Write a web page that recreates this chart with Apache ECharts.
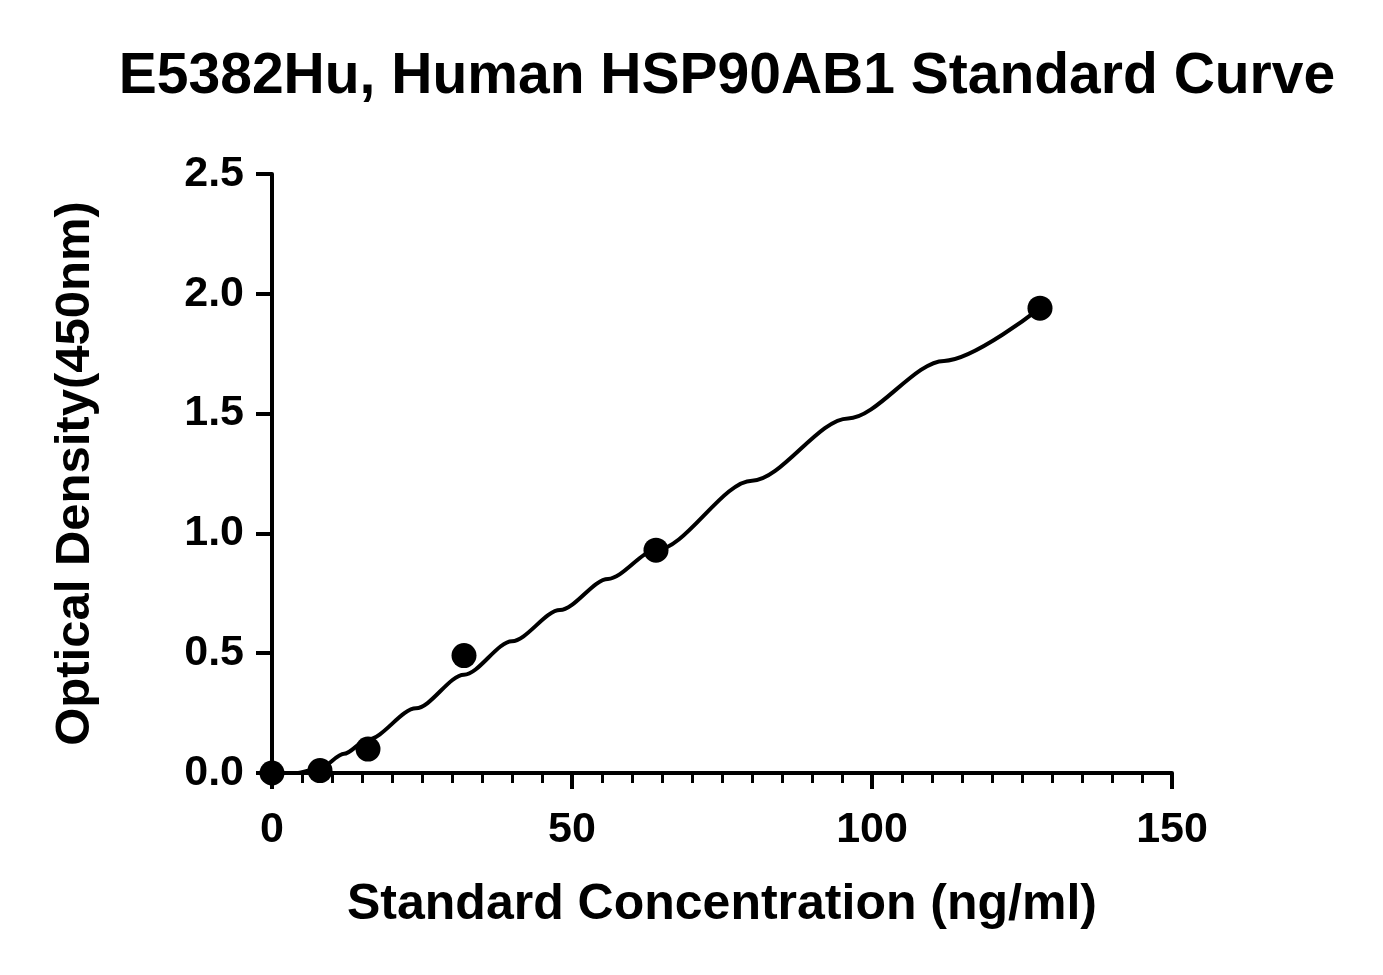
<!DOCTYPE html>
<html><head><meta charset="utf-8">
<script src="https://cdn.jsdelivr.net/npm/echarts@6/dist/echarts.min.js"></script>
<style>html,body{margin:0;padding:0;background:#fff}#c{width:1383px;height:975px}</style>
</head><body><div id="c"></div>
<script>
var pointX = [0, 8, 16, 32, 64, 128];
var pointY = [0.0, 0.01, 0.10, 0.49, 0.93, 1.94];
var curveX = [2, 4, 8, 12, 16, 24, 32, 40, 48, 56, 64, 80, 96, 112, 128];
var curveY = [0.0, 0.0, 0.02, 0.08, 0.14, 0.27, 0.41, 0.55, 0.68, 0.81, 0.93, 1.22, 1.48, 1.72, 1.94];
var xTicks = [0, 50, 100, 150];
var yTicks = [0.0, 0.5, 1.0, 1.5, 2.0, 2.5];

var f = 'Arial, "Liberation Sans", sans-serif';
var chart = echarts.init(document.getElementById('c'));
chart.setOption({
  animation: false,
  title: {text: 'E5382Hu, Human HSP90AB1 Standard Curve', left: 722, top: 44, textAlign: 'center',
    textStyle: {fontFamily: f, fontWeight: 'bold', fontSize: 57, color: '#000'}},
  grid: {left: 272, right: 211, top: 174, bottom: 202},
  xAxis: {type: 'value', min: 0, max: 150, interval: 50,
    name: 'Standard Concentration (ng/ml)', nameLocation: 'middle', nameGap: 107,
    nameTextStyle: {fontFamily: f, fontWeight: 'bold', fontSize: 50, color: '#000'},
    axisLine: {lineStyle: {color: '#000', width: 4}},
    axisTick: {length: 16, lineStyle: {width: 4, color: '#000'}},
    minorTick: {show: true, splitNumber: 10, length: 10, lineStyle: {width: 3, color: '#000'}},
    axisLabel: {fontFamily: f, fontWeight: 'bold', fontSize: 43, color: '#000', margin: 36,
      formatter: function(v){return xTicks.indexOf(v) >= 0 ? String(v) : '';}},
    splitLine: {show: false}},
  yAxis: {type: 'value', min: 0, max: 2.5, interval: 0.5,
    name: 'Optical Density(450nm)', nameLocation: 'middle', nameGap: 172,
    nameTextStyle: {fontFamily: f, fontWeight: 'bold', fontSize: 49, color: '#000'},
    axisLine: {show: true, lineStyle: {color: '#000', width: 4}},
    axisTick: {show: true, length: 16, lineStyle: {width: 4, color: '#000'}},
    axisLabel: {fontFamily: f, fontWeight: 'bold', fontSize: 43, color: '#000', margin: 28,
      formatter: function(v){return v.toFixed(1);}},
    splitLine: {show: false}},
  series: [
    {type: 'line', data: curveX.map(function(x,i){return [x, curveY[i]];}), smooth: 0.3,
      smoothMonotone: 'x', showSymbol: false, lineStyle: {color: '#000', width: 4}, z: 2},
    {type: 'scatter', data: pointX.map(function(x,i){return [x, pointY[i]];}),
      symbolSize: 25, itemStyle: {color: '#000', opacity: 1}, z: 3}
  ]
});
</script></body></html>
